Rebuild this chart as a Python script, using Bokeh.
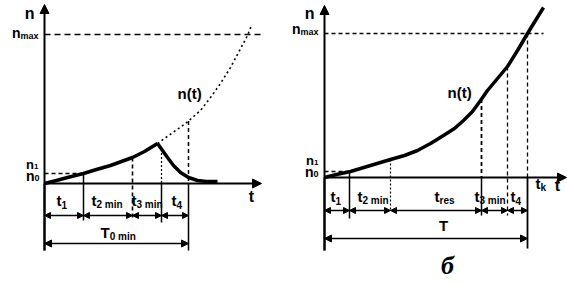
import numpy as np
from bokeh.plotting import figure
from bokeh.layouts import row
from bokeh.models import Range1d, Arrow, NormalHead
from bokeh.core.properties import value
from bokeh.embed import file_html
from bokeh.resources import INLINE

# ---------------- data (schematic units) ----------------
# panel a: start / accelerate / hold / decay
a_curve_t = [0, 1.0, 2.3, 3.9, 5.2, 6.6, 7.7, 8.8, 10.0, 11.3]
a_curve_n = [0, 0.25, 0.6, 1.0, 1.4, 1.8, 2.2, 2.6, 3.2, 4.0]
a_decay_t = [11.3, 11.8, 12.3, 12.9, 13.6, 14.4, 15.3, 16.2, 17.3]
a_decay_n = [4.0, 3.3, 2.6, 1.8, 1.1, 0.6, 0.3, 0.2, 0.2]
a_trend_t = [11.3, 12.7, 14.1, 15.6, 16.6, 17.6, 18.6, 19.4, 20.3, 20.7]
a_trend_n = [4.0, 5.0, 6.0, 7.3, 8.6, 10.0, 11.6, 13.1, 14.8, 15.8]
a_bounds = [0, 3.9, 8.8, 11.7, 14.4]
a_nmax, a_n1 = 14.9, 1.0
a_labels = [("t", "1"), ("t", "2 min"), ("t", "3 min"), ("t", "4")]
a_total = ("T", "0 min")

# panel b
b_curve_t = [0, 1.2, 2.6, 4.6, 6.6, 8.0, 9.3, 10.6, 11.9, 13.0, 13.9, 14.8, 15.6, 16.3, 17.3, 18.3, 19.3, 20.3, 21.1, 21.9]
b_curve_n = [0, 0.3, 0.6, 1.2, 1.8, 2.2, 2.7, 3.4, 4.2, 4.9, 5.7, 6.6, 7.7, 8.7, 9.9, 11.1, 12.7, 14.4, 15.7, 17.0]
b_bounds = [0, 2.5, 6.6, 15.7, 18.3, 20.3]
b_nmax, b_n1 = 14.4, 0.6
b_labels = [("t", "1"), ("t", "2 min"), ("t", "res"), ("t", "3 min"), ("t", "4")]
b_total = ("T", "")

FONT = "Liberation Sans"
W = {"n": .611, "t": .333, "T": .611, "m": .889, "a": .556, "x": .556, "i": .278,
     "r": .389, "e": .556, "s": .556, "k": .556, " ": .278, "(": .333, ")": .333}


def width(s, size):
    return sum(W.get(c, .556) for c in s) * size


def txt(p, x, y, s, size=15, align="left", xo=0, yo=0, style="bold", font=FONT):
    p.text(x=[x], y=[y], text=[s], text_font=value(font), text_font_size=value(f"{size}px"),
           text_align=align, text_baseline="middle", x_offset=xo, y_offset=yo,
           text_color="black", text_font_style=style)


def sub(p, x, y, main, s, size=15, ssize=10, align="left", yo=4):
    if align == "left":
        txt(p, x, y, main, size, "left")
        if s:
            txt(p, x, y, s, ssize, "left", xo=width(main, size), yo=yo)
    else:
        sw = width(s, ssize) if s else 0
        txt(p, x, y, main, size, "right", xo=-sw)
        if s:
            txt(p, x, y, s, ssize, "right", yo=yo)


def base(w, xr, yr):
    p = figure(width=w, height=285, x_range=Range1d(*xr), y_range=Range1d(*yr),
               output_backend="svg", toolbar_location=None, min_border=0)
    p.axis.visible = False
    p.grid.visible = False
    p.outline_line_color = None
    p.background_fill_color = "white"
    p.border_fill_color = "white"
    return p


def arrow(p, x0, y0, x1, y1, both=False, size=6, lw=1.5):
    p.add_layout(Arrow(x_start=x0, y_start=y0, x_end=x1, y_end=y1, line_width=lw,
                       end=NormalHead(size=size, fill_color="black", line_color="black"),
                       start=NormalHead(size=size, fill_color="black", line_color="black") if both else None))


# ---------------- panel a ----------------
pa = base(290, (-4.4, 24.6), (-10.2, 18.3))
arrow(pa, 0, -6.7, 0, 17.9, size=9, lw=2)
pa.line([0, 0], [-6.7, 0], line_width=2, color="black")
arrow(pa, 0, 0, 21.7, 0, size=9, lw=2)
pa.line([0, 21.9], [a_nmax, a_nmax], line_dash="6 4", line_width=1.4, color="black")
pa.line([0, a_bounds[1]], [a_n1, a_n1], line_dash="4 3", line_width=1.4, color="black")
pa.line(a_trend_t, a_trend_n, line_dash="2 3", line_width=1.6, color="black")
pa.line(a_curve_t, a_curve_n, line_width=3.5, color="black", line_join="round")
pa.line(a_decay_t, a_decay_n, line_width=3.5, color="black", line_join="round")
# verticals
pa.line([a_bounds[1]] * 2, [a_n1, -3.7], line_width=1.5, color="black")
top2 = np.interp(a_bounds[2], a_curve_t, a_curve_n)
pa.line([a_bounds[2]] * 2, [top2, -3.6], line_dash="4 3", line_width=1.6, color="black")
top3 = np.interp(a_bounds[3], a_decay_t, a_decay_n)
pa.line([a_bounds[3]] * 2, [top3, 0], line_dash="2 2", line_width=1.2, color="black")
pa.line([a_bounds[3]] * 2, [0, -3.9], line_width=1.5, color="black")
top4 = np.interp(a_bounds[4], a_trend_t, a_trend_n)
pa.line([a_bounds[4]] * 2, [top4, 0], line_dash="4 3", line_width=1.5, color="black")
pa.line([a_bounds[4]] * 2, [0, -6.7], line_width=1.5, color="black")
for i in range(4):
    arrow(pa, a_bounds[i], -3.2, a_bounds[i + 1], -3.2, both=True, size=6)
arrow(pa, a_bounds[0], -6.0, a_bounds[-1], -6.0, both=True, size=7)
a_lab_x = [1.2, 4.7, 8.7, 12.7]
for (m, s), x in zip(a_labels, a_lab_x):
    sub(pa, x, -1.7, m, s)
sub(pa, 5.6, -4.9, *a_total)
txt(pa, 13.3, 9.0, "n(t)", 15)
txt(pa, 20.7, -1.3, "t", 16, "center")
txt(pa, -1.0, 17.0, "n", 16, "right")
sub(pa, -0.6, 15.1, "n", "max", 14, 9, "right", yo=3)
sub(pa, -0.6, 1.9, "n", "1", 13, 8, "right", yo=2)
sub(pa, -0.5, 0.8, "n", "0", 14, 9, "right", yo=2)

# ---------------- panel b ----------------
pb = base(277, (-3.4, 24.3), (-10.8, 17.7))
arrow(pb, 0, -7.3, 0, 17.2, size=9, lw=2)
pb.line([0, 0], [-7.3, 0], line_width=2, color="black")
arrow(pb, 0, 0, 24.2, 0, size=9, lw=2)
pb.line([0, 21.9], [b_nmax, b_nmax], line_dash="4 3", line_width=1.3, color="black")
pb.line([0, b_bounds[1]], [b_n1, b_n1], line_dash="4 3", line_width=1.3, color="black")
pb.line(b_curve_t, b_curve_n, line_width=3.5, color="black", line_join="round")
pb.line([b_bounds[1]] * 2, [b_n1, -4.1], line_width=1.5, color="black")
t2 = np.interp(b_bounds[2], b_curve_t, b_curve_n)
pb.line([b_bounds[2]] * 2, [t2, -3.3], line_dash="2 2", line_width=1.2, color="black")
t3 = np.interp(b_bounds[3], b_curve_t, b_curve_n)
pb.line([b_bounds[3]] * 2, [t3, 0], line_dash="4 3", line_width=1.8, color="black")
pb.line([b_bounds[3]] * 2, [0, -3.8], line_width=1.5, color="black")
t4 = np.interp(b_bounds[4], b_curve_t, b_curve_n)
pb.line([b_bounds[4]] * 2, [t4, -3.8], line_dash="4 3", line_width=1.3, color="black")
t5 = np.interp(b_bounds[5], b_curve_t, b_curve_n)
pb.line([b_bounds[5]] * 2, [t5, 0], line_dash="4 3", line_width=1.3, color="black")
pb.line([b_bounds[5]] * 2, [0, -7.1], line_width=1.8, color="black")
for i in range(5):
    arrow(pb, b_bounds[i], -3.3, b_bounds[i + 1], -3.3, both=True, size=6)
arrow(pb, b_bounds[0], -6.1, b_bounds[-1], -6.1, both=True, size=7)
b_lab_x = [0.6, 3.3, 11.0, 15.0, 18.6]
for (m, s), x in zip(b_labels, b_lab_x):
    sub(pb, x, -1.9, m, s)
txt(pb, 11.9, -4.8, b_total[0], 15, "center")
sub(pb, 21.1, -0.6, "t", "k", 15, 10)
txt(pb, 23.3, -0.8, "t", 16, "center")
txt(pb, 12.3, 8.5, "n(t)", 15)
txt(pb, -1.0, 16.4, "n", 16, "right")
sub(pb, -0.6, 14.9, "n", "max", 14, 9, "right", yo=3)
sub(pb, -0.6, 1.7, "n", "1", 13, 8, "right", yo=2)
sub(pb, -0.6, 0.6, "n", "0", 14, 9, "right", yo=2)
txt(pb, 12.3, -8.8, "б", 26, "center", style="bold italic", font="Liberation Serif")

open("out.html", "w").write(file_html(row(pa, pb), INLINE))
